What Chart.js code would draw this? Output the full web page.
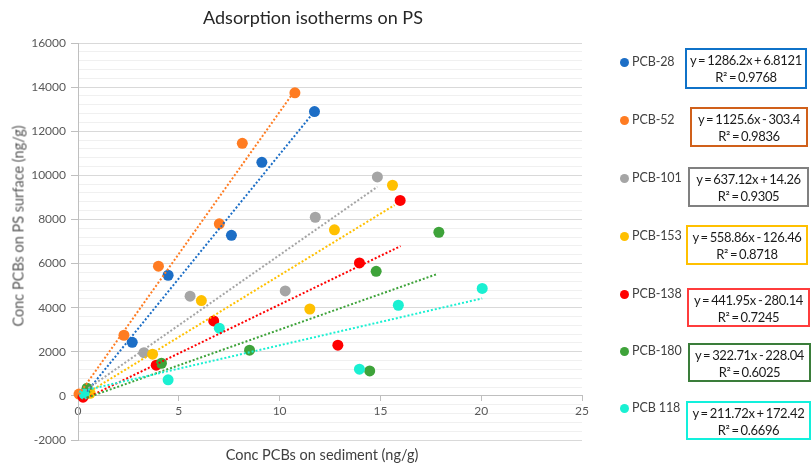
<!DOCTYPE html>
<html><head><meta charset="utf-8">
<script src="https://cdn.jsdelivr.net/npm/chart.js@4"></script>
<style>
body{margin:0;background:#fff;}
#wrap{position:relative;width:811px;height:467px;overflow:hidden;font-family:Lato,"Open Sans",sans-serif;background:#fff;}
#c{position:absolute;left:0;top:0;}
.t{position:absolute;white-space:nowrap;}
.lab{position:absolute;white-space:nowrap;font-size:12.5px;color:#404040;line-height:16px;letter-spacing:-0.1px;}
.dot{position:absolute;width:9px;height:9px;border-radius:50%;}
.box{position:absolute;box-sizing:border-box;border:2px solid;background:#fff;text-align:center;font-size:13px;line-height:17px;color:#1a1a1a;padding-top:2px;white-space:nowrap;letter-spacing:-0.35px;word-spacing:-1px;}
</style></head><body>
<div id="wrap">
<canvas id="c" width="811" height="467"></canvas>
<div class="t" id="title" style="left:313px;top:6px;transform:translateX(-50%);font-size:18px;color:#262626;">Adsorption isotherms on PS</div>
<div class="t" id="ytitle" style="left:18px;top:226px;transform:translate(-50%,-50%) rotate(-90deg);font-size:14.5px;color:#595959;">Conc PCBs on PS surface (ng/g)</div>
<div class="t" id="xtitle" style="left:322px;top:446px;transform:translateX(-50%);font-size:14.5px;color:#404040;">Conc PCBs on sediment (ng/g)</div>
</div>
<script>
// ---- data ----
const categories = ['PCB-28', 'PCB-52', 'PCB-101', 'PCB-153', 'PCB-138', 'PCB-180', 'PCB 118'];
const pcb28X  = [0.45, 2.69, 4.47, 7.61, 9.12, 11.73];
const pcb28Y  = [250, 2430, 5470, 7280, 10590, 12890];
const pcb52X  = [0.05, 2.28, 3.99, 7.01, 8.15, 10.76];
const pcb52Y  = [80, 2750, 5880, 7800, 11450, 13740];
const pcb101X = [0.35, 3.27, 5.56, 10.28, 11.77, 14.85];
const pcb101Y = [150, 1960, 4520, 4760, 8100, 9930];
const pcb153X = [0.6, 3.70, 6.12, 11.5, 12.72, 15.6];
const pcb153Y = [120, 1890, 4320, 3940, 7530, 9550];
const pcb138X = [0.25, 3.88, 6.73, 12.89, 13.96, 15.98];
const pcb138Y = [-60, 1390, 3400, 2300, 6030, 8860];
const pcb180X = [0.45, 4.14, 8.51, 14.47, 14.79, 17.9];
const pcb180Y = [350, 1480, 2070, 1130, 5650, 7420];
const pcb118X = [0.3, 4.47, 7.01, 13.96, 15.89, 20.05];
const pcb118Y = [80, 730, 3070, 1210, 4110, 4870];
// trend line end points
const trendX0 = [0.45, 0.05, 0.35, 0.6, 0.25, 0.45, 0.3];
const trendY0 = [200, 70, 240, 210, -170, -80, 240];
const trendX1 = [11.73, 10.76, 14.85, 15.7, 16.0, 17.8, 20.05];
const trendY1 = [12900, 13850, 9480, 8650, 6790, 5520, 4420];
const eqTexts = ['y = 1286.2x + 6.8121', 'y = 1125.6x - 303.4', 'y = 637.12x + 14.26', 'y = 558.86x - 126.46', 'y = 441.95x - 280.14', 'y = 322.71x - 228.04', 'y = 211.72x + 172.42'];
const r2Texts = ['R\u00b2 = 0.9768', 'R\u00b2 = 0.9836', 'R\u00b2 = 0.9305', 'R\u00b2 = 0.8718', 'R\u00b2 = 0.7245', 'R\u00b2 = 0.6025', 'R\u00b2 = 0.6696'];
const xTicks = [0, 5, 10, 15, 20, 25];
const yTickLabels = [-2000, 0, 2000, 4000, 6000, 8000, 10000, 12000, 14000, 16000];

// ---- styles ----
const colors = ['#1c6ec6', '#ff7c22', '#a5a5a5', '#ffc000', '#ff0000', '#3ea33a', '#1af0d2'];
const boxColors = ['#0f72c8', '#d0601a', '#808080', '#ffc000', '#ff3c3c', '#3a7d3a', '#12f0dc'];
const legendY = [62, 120, 178, 236, 294, 351, 408];
const boxGeom = [[685,48,122,41],[690,107,118,40],[688,167,121,40],[686,225,122,40],[687,288,123,39],[688,343,123,39],[686,401,125,39]];

const seriesX = [pcb28X, pcb52X, pcb101X, pcb153X, pcb138X, pcb180X, pcb118X];
const seriesY = [pcb28Y, pcb52Y, pcb101Y, pcb153Y, pcb138Y, pcb180Y, pcb118Y];

const datasets = [];
categories.forEach((name, i) => {
  datasets.push({
    label: name,
    data: seriesX[i].map((x, j) => ({x: x, y: seriesY[i][j]})),
    backgroundColor: colors[i], borderColor: colors[i], borderWidth: 0,
    pointRadius: 5.5, pointHoverRadius: 5.5, clip: false, order: 50 - i
  });
});
categories.forEach((name, i) => {
  datasets.push({
    label: name + ' trend',
    data: [{x: trendX0[i], y: trendY0[i]}, {x: trendX1[i], y: trendY1[i]}],
    showLine: true, borderColor: colors[i], borderWidth: 2, borderDash: [2, 2],
    pointRadius: 0, pointHoverRadius: 0, fill: false, clip: false, order: -i
  });
});

const tickFont = {family: 'Lato', size: 12};
new Chart(document.getElementById('c'), {
  type: 'scatter',
  data: {datasets},
  options: {
    responsive: false, animation: false, devicePixelRatio: 1,
    layout: {padding: {left: 4, right: 229, top: 43, bottom: 27}},
    plugins: {legend: {display: false}, tooltip: {enabled: false}, title: {display: false}},
    scales: {
      x: {
        type: 'linear', min: 0, max: 25, position: {y: 0},
        afterBuildTicks: s => { s.ticks = xTicks.map(v => ({value: v})); },
        ticks: {color: '#595959', font: tickFont, padding: 3, maxRotation: 0, autoSkip: false},
        grid: {drawOnChartArea: false, drawTicks: true, tickLength: 5, color: '#bfbfbf'},
        border: {color: '#bfbfbf', width: 1}
      },
      y: {
        type: 'linear', min: -2000, max: 16000,
        afterFit: s => { s.width = 74; },
        ticks: {stepSize: 400, autoSkip: false, color: '#595959', font: tickFont, padding: 5,
          callback: v => yTickLabels.includes(v) ? String(v) : ''},
        grid: {
          color: c => yTickLabels.includes(c.tick.value) ? '#d9d9d9' : '#f0f0f0',
          tickColor: c => yTickLabels.includes(c.tick.value) ? '#bfbfbf' : 'rgba(0,0,0,0)',
          tickLength: 7, lineWidth: 1
        },
        border: {color: '#bfbfbf', width: 1}
      }
    }
  }
});

// ---- legend with trend equations ----
const wrap = document.getElementById('wrap');
categories.forEach((name, i) => {
  const d = document.createElement('div');
  d.className = 'dot';
  d.style.left = (624 - 4.5) + 'px';
  d.style.top = (legendY[i] - 4.5) + 'px';
  d.style.background = colors[i];
  wrap.appendChild(d);
  const l = document.createElement('div');
  l.className = 'lab';
  l.style.left = '632px';
  l.style.top = (legendY[i] - 8) + 'px';
  l.textContent = name;
  wrap.appendChild(l);
  const b = document.createElement('div');
  b.className = 'box';
  const g = boxGeom[i];
  b.style.left = g[0] + 'px'; b.style.top = g[1] + 'px';
  b.style.width = g[2] + 'px'; b.style.height = g[3] + 'px';
  b.style.borderColor = boxColors[i];
  b.innerHTML = '<div>' + eqTexts[i] + '</div><div>' + r2Texts[i] + '</div>';
  wrap.appendChild(b);
});
</script>
</body></html>
